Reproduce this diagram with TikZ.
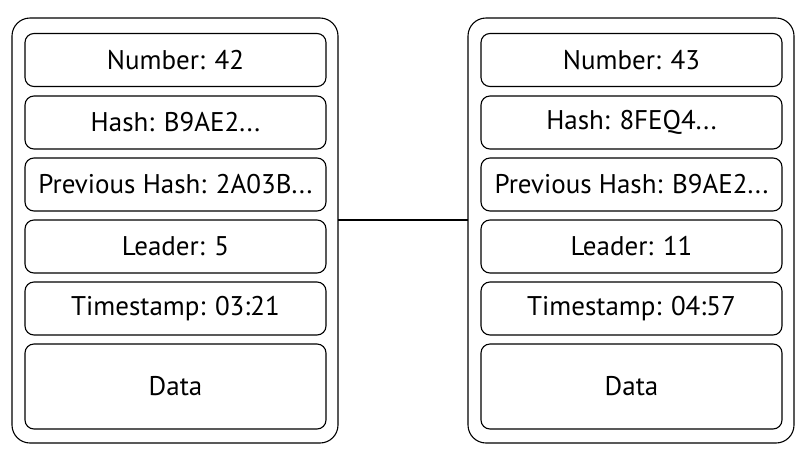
\documentclass[tikz,border=0pt]{standalone}
\usepackage{fontspec}
\setmainfont{PT Sans}
\usepackage{tikz}
\usetikzlibrary{calc}

\tikzset{
  field/.style={draw, line width=1.1pt, rounded corners=9pt, minimum width=301pt,
    minimum height=53pt, inner sep=0pt, font=\fontsize{27}{30}\selectfont},
  block/.style={draw, line width=1.1pt, rounded corners=18pt, minimum width=326pt,
    minimum height=425pt, inner sep=0pt}
}

\begin{document}
\begin{tikzpicture}[x=1pt, y=-1pt, outer sep=0pt]
\useasboundingbox (0,0) rectangle (809,456);

% first block
\node[block] at (175, 230.5) (BLOCK_A) {};
\node[field] at (175.5, 60) (NUM_A) {Number: 42};
\node[field] at (175.5, 122.5) (HASH_A) {Hash: B9AE2...};
\node[field] at (175.5, 184.5) (PREV_A) {Previous Hash: 2A03B...};
\node[field] at (175.5, 246.5) (LEAD_A) {Leader: 5};
\node[field] at (175.5, 308.5) (TIME_A) {Timestamp: 03:21};
\node[field, minimum height=85pt] at (175.5, 386.5) (DATA_A) {Data};

% second block
\node[block] at (631, 230.5) (BLOCK_B) {};
\node[field] at (631.5, 60) (NUM_B) {Number: 43};
\node[field] at (631.5, 122.5) (HASH_B) {Hash: 8FEQ4...};
\node[field] at (631.5, 184.5) (PREV_B) {Previous Hash: B9AE2...};
\node[field] at (631.5, 246.5) (LEAD_B) {Leader: 11};
\node[field] at (631.5, 308.5) (TIME_B) {Timestamp: 04:57};
\node[field, minimum height=85pt] at (631.5, 386.5) (DATA_B) {Data};

% chain link
\draw [-, line width=1.1pt] (BLOCK_A.east |- LEAD_A.north) -- (BLOCK_B.west |- LEAD_B.north);
\end{tikzpicture}
\end{document}
